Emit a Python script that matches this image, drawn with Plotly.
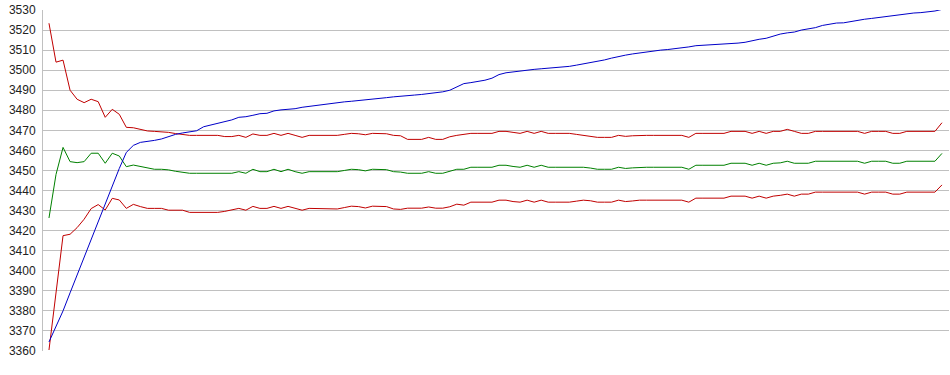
import plotly.graph_objects as go

# ---- data ----
blue = [3364.5, 3372, 3380, 3389, 3398, 3407, 3416, 3425, 3434, 3442,
        3451, 3459, 3462.5, 3464, 3464.4, 3465, 3465.7, 3467, 3468, 3468.7,
        3469.2, 3469.8, 3471.8, 3472.7, 3473.6, 3474.4, 3475.2, 3476.5, 3476.8, 3477.5,
        3478.3, 3478.5, 3479.7, 3480.2, 3480.5, 3480.8, 3481.5, 3482, 3482.4, 3482.7,
        3483.3, 3483.7, 3484.2, 3484.5, 3484.8, 3485.1, 3485.4, 3485.9, 3486.3, 3486.7,
        3487.1, 3487.4, 3487.6, 3487.9, 3488.3, 3488.6, 3489.2, 3490, 3491.5, 3493.3,
        3493.8, 3494.4, 3495, 3496, 3497.8, 3498.7, 3499.2, 3499.7, 3500.1, 3500.4,
        3500.7, 3501, 3501.2, 3501.5, 3501.9, 3502.5, 3503.1, 3503.9, 3504.5, 3505.1,
        3506, 3506.9, 3507.5, 3508.1, 3508.6, 3509.2, 3509.6, 3510, 3510.3, 3510.7,
        3511, 3511.6, 3512.2, 3512.4, 3512.6, 3512.8, 3512.9, 3513.2, 3513.5, 3513.9,
        3514.8, 3515.4, 3515.9, 3517, 3518, 3518.6, 3519, 3520, 3520.6, 3521.2,
        3522.3, 3523, 3523.5, 3523.6, 3524.2, 3525, 3525.4, 3525.8, 3526.3, 3526.7,
        3527.2, 3527.7, 3528.3, 3528.5, 3528.7, 3529.1, 3529.5, 3530.3]

upper = [3523.4, 3504, 3505, 3490, 3485.5, 3483.8, 3485.5, 3484.3, 3476.5, 3480.5,
         3478, 3471.5, 3471.3, 3470.5, 3469.7, 3469.5, 3469.4, 3469, 3468.4, 3468,
         3467.5, 3467.5, 3467.5, 3467.5, 3467.5, 3466.9, 3466.9, 3467.5, 3466.5, 3468.2,
         3467.5, 3467.5, 3468.5, 3467.5, 3468.5, 3467.5, 3466.5, 3467.5, 3467.5, 3467.5,
         3467.5, 3467.5, 3468, 3468.5, 3468.3, 3467.8, 3468.5, 3468.5, 3468.3, 3467.5,
         3467.3, 3465.5, 3465.5, 3465.5, 3466.5, 3465.5, 3465.5, 3466.8, 3467.5, 3468,
         3468.5, 3468.5, 3468.5, 3468.5, 3469.5, 3469.5, 3469, 3468.5, 3469.5, 3468.5,
         3469.5, 3468.5, 3468.5, 3468.5, 3468.5, 3468, 3467.5, 3467, 3466.5, 3466.5,
         3466.5, 3467.5, 3467, 3467.3, 3467.5, 3467.5, 3467.5, 3467.5, 3467.5, 3467.5,
         3467.5, 3466.5, 3468.5, 3468.5, 3468.5, 3468.5, 3468.5, 3469.5, 3469.5, 3469.5,
         3468.5, 3469.5, 3468.5, 3469.5, 3469.5, 3470.5, 3469.5, 3468.5, 3468.5, 3469.5,
         3469.5, 3469.5, 3469.5, 3469.5, 3469.5, 3469.5, 3468.5, 3469.5, 3469.5, 3469.5,
         3468.5, 3468.5, 3469.5, 3469.5, 3469.5, 3469.5, 3469.5, 3473.8]

middle = [3426.3, 3448, 3461.5, 3454.4, 3453.9, 3454.4, 3458.6, 3458.6, 3453.6, 3458.6,
          3457.2, 3451.9, 3452.7, 3452, 3451, 3450.6, 3450.6, 3450.3, 3449.6, 3449,
          3448.6, 3448.6, 3448.6, 3448.6, 3448.6, 3448.6, 3448.6, 3449.4, 3448.6, 3450.6,
          3449.4, 3449.4, 3450.6, 3449.4, 3450.6, 3449.4, 3448.6, 3449.4, 3449.4, 3449.4,
          3449.4, 3449.4, 3450, 3450.6, 3450.4, 3449.8, 3450.6, 3450.6, 3450.4, 3449.4,
          3449.2, 3448.6, 3448.6, 3448.6, 3449.4, 3448.6, 3448.6, 3449.6, 3450.6, 3450.6,
          3451.6, 3451.6, 3451.6, 3451.6, 3452.6, 3452.6, 3452, 3451.6, 3452.6, 3451.6,
          3452.6, 3451.6, 3451.6, 3451.6, 3451.6, 3451.6, 3451.6, 3451.2, 3450.6, 3450.6,
          3450.6, 3451.6, 3451, 3451.3, 3451.6, 3451.6, 3451.6, 3451.6, 3451.6, 3451.6,
          3451.6, 3450.6, 3452.6, 3452.6, 3452.6, 3452.6, 3452.6, 3453.6, 3453.6, 3453.6,
          3452.6, 3453.6, 3452.6, 3453.6, 3453.8, 3454.6, 3453.6, 3453.6, 3453.6, 3454.6,
          3454.6, 3454.6, 3454.6, 3454.6, 3454.6, 3454.6, 3453.6, 3454.6, 3454.6, 3454.6,
          3453.6, 3453.6, 3454.6, 3454.6, 3454.6, 3454.6, 3454.6, 3458.5]

lower = [3360.5, 3389, 3417.5, 3418.2, 3421.5, 3425.7, 3431, 3433, 3430.3, 3436.1,
         3435.3, 3431.1, 3433.1, 3432, 3431.1, 3431.1, 3431.1, 3430.2, 3430.2, 3430.2,
         3429.1, 3429.1, 3429.1, 3429.1, 3429.1, 3429.6, 3430.2, 3431.1, 3430.2, 3432.1,
         3431.1, 3431.1, 3432.1, 3431.1, 3432.1, 3431.1, 3430.2, 3431.1, 3431.1, 3431.1,
         3430.8, 3430.8, 3431.5, 3432.2, 3432, 3431.3, 3432.2, 3432.2, 3432, 3430.8,
         3430.6, 3431.2, 3431.2, 3431.2, 3431.8, 3431.2, 3431.2, 3431.9, 3433.2, 3432.7,
         3434.2, 3434.2, 3434.2, 3434.2, 3435.2, 3435.2, 3434.5, 3434.2, 3435.2, 3434.2,
         3435.2, 3434.2, 3434.2, 3434.2, 3434.2, 3434.7, 3435.2, 3434.9, 3434.2, 3434.2,
         3434.2, 3435.2, 3434.5, 3434.8, 3435.2, 3435.2, 3435.2, 3435.2, 3435.2, 3435.2,
         3435.2, 3434.2, 3436.2, 3436.2, 3436.2, 3436.2, 3436.2, 3437.2, 3437.2, 3437.2,
         3436.2, 3437.2, 3436.2, 3437.2, 3437.6, 3438.2, 3437.2, 3438.2, 3438.2, 3439.2,
         3439.2, 3439.2, 3439.2, 3439.2, 3439.2, 3439.2, 3438.2, 3439.2, 3439.2, 3439.2,
         3438.2, 3438.2, 3439.2, 3439.2, 3439.2, 3439.2, 3439.2, 3442.8]

y_ticks = list(range(3360, 3531, 10))

x = list(range(len(blue)))

fig = go.Figure()
for vals, col in [(upper, "#c00000"), (lower, "#c00000"), (middle, "#008000"), (blue, "#0000c8")]:
    fig.add_trace(go.Scatter(x=x, y=vals, mode="lines",
                             line=dict(color=col, width=1), hoverinfo="skip"))

fig.update_layout(
    width=950, height=375,
    margin=dict(l=43, r=1, t=10, b=24),
    paper_bgcolor="white", plot_bgcolor="white",
    showlegend=False,
    font=dict(family="Liberation Sans, Arial, sans-serif", size=12, color="#222222"),
)
fig.update_xaxes(range=[-0.85, 128.0], showgrid=False, zeroline=False,
                 showticklabels=False, ticks="", showline=False)
fig.update_yaxes(range=[3360, 3530], tickvals=y_ticks, ticktext=[str(v) for v in y_ticks],
                 showgrid=True, gridcolor="#c0c0c0", gridwidth=1, zeroline=False,
                 showline=True, linecolor="#c0c0c0", linewidth=1, ticks="",
                 ticklabelstandoff=4)

fig.write_html("out.html", config={"displayModeBar": False})
